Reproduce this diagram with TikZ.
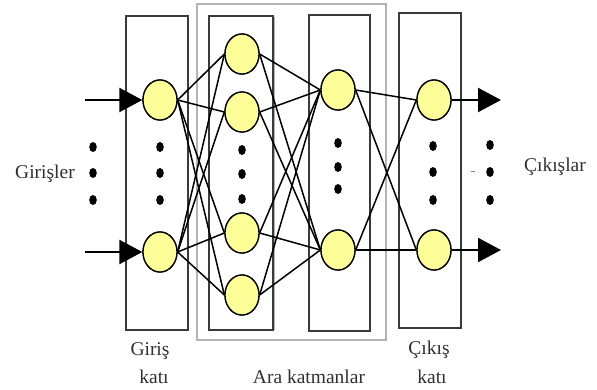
\documentclass[tikz,border=0pt]{standalone}
\usepackage{fontspec}
\setmainfont{Liberation Serif}
\usetikzlibrary{arrows.meta,shapes.geometric}
\definecolor{neuronfill}{HTML}{FFFF99}
\definecolor{framegray}{HTML}{B4B4B4}
\definecolor{boxline}{HTML}{3A3A3A}
\definecolor{labeltext}{HTML}{303030}
\begin{document}
\begin{tikzpicture}[x=1pt,y=-1pt,
  neuron/.style={ellipse,draw=black,line width=1.3pt,fill=neuronfill,
    minimum width=34pt,minimum height=40pt,inner sep=0pt},
  layerbox/.style={draw=boxline,line width=1.4pt},
  groupframe/.style={draw=framegray,line width=2pt},
  link/.style={draw=black,line width=1.5pt},
  bigarrow/.style={draw=black,line width=2.2pt,-{Triangle[length=23pt,width=24pt]}},
  dotmark/.style={fill=black},
  caption/.style={font=\fontsize{19.5}{23}\selectfont,text=labeltext,inner sep=0pt}]
\useasboundingbox (0,0) rectangle (597,390);

% group frame around the hidden layers and the layer boxes
\draw[groupframe] (197,4) rectangle (386,340);
\draw[layerbox] (126,16) rectangle (188,330);
\draw[layerbox] (209,16) rectangle (273,330);
\draw[framegray,line width=1.6pt] (274.5,17) -- (274.5,330);
\draw[layerbox] (309,15) rectangle (370,331);
\draw[layerbox] (399,13) rectangle (461,328);

% neurons
\node[neuron] (in1) at (160,100) {};
\node[neuron] (in2) at (160,252) {};
\node[neuron] (ha) at (242,54) {};
\node[neuron] (hb) at (242,112) {};
\node[neuron] (hc) at (242,233) {};
\node[neuron] (hd) at (242,295) {};
\node[neuron] (ka) at (338,90) {};
\node[neuron] (kb) at (338,250) {};
\node[neuron] (o1) at (434,100) {};
\node[neuron] (o2) at (434,250) {};

% connections
\foreach \s in {in1,in2}
  \foreach \t in {ha,hb,hc,hd}
    \draw[link] (\s.east) -- (\t.west);
\foreach \s in {ha,hb,hc,hd}
  \foreach \t in {ka,kb}
    \draw[link] (\s.east) -- (\t.west);
\foreach \s in {ka,kb}
  \foreach \t in {o1,o2}
    \draw[link] (\s.east) -- (\t.west);

% redraw neurons above the connections
\foreach \p in {(160,100),(160,252),(242,54),(242,112),(242,233),(242,295),
  (338,90),(338,250),(434,100),(434,250)}
  \node[neuron] at \p {};

% input and output arrows
\coordinate (src1) at (85,100);
\coordinate (src2) at (85,252);
\coordinate (dst1) at (501,100);
\coordinate (dst2) at (501,250);
\draw[bigarrow] (src1) -- (in1.west);
\draw[bigarrow] (src2) -- (in2.west);
\draw[bigarrow] (o1.east) -- (dst1);
\draw[bigarrow] (o2.east) -- (dst2);

% ellipsis dots
\foreach \x/\ya/\yb/\yc in {93/147/173/200, 160/147/173/200, 242/150/174/199,
  338/143/167/189, 433/146/172/200, 490/145/172/200}
  \foreach \y in {\ya,\yb,\yc}
    \fill[dotmark] (\x,\y) ellipse [x radius=3.8pt,y radius=5pt];
\draw[gray,line width=0.8pt] (471,171) -- (475,171);

% labels
\node[caption] (lin) at (45,174) {Girişler};
\node[caption] (lout) at (555,167) {Çıkışlar};
\node[caption] (lg1) at (150,351) {Giriş};
\node[caption] (lg2) at (154,377) {katı};
\node[caption] (lh) at (309,377) {Ara katmanlar};
\node[caption] (lc1) at (429,350) {Çıkış};
\node[caption] (lc2) at (432,377) {katı};
\end{tikzpicture}
\end{document}
